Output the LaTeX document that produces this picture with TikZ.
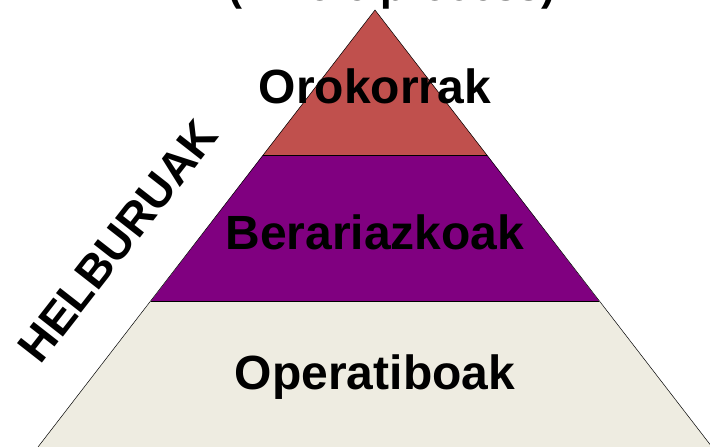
\documentclass[tikz,border=0pt]{standalone}
\usepackage{fontspec}
\setmainfont{Liberation Sans}
\definecolor{topred}{HTML}{C0504D}
\definecolor{midpurple}{HTML}{800080}
\definecolor{lowbeige}{HTML}{EEECE1}
\begin{document}
\begin{tikzpicture}[x=1pt,y=-1pt,
  layer/.style={draw=black,line width=0.5pt,line join=miter},
  lbl/.style={font=\fontsize{48}{56}\selectfont\bfseries,text=black,inner sep=0pt}]
\useasboundingbox (0,0) rectangle (710,447);
\clip (0,0) rectangle (710,447);
\coordinate (apex) at (375,10);
\coordinate (l1) at (263,155);
\coordinate (r1) at (487,155);
\coordinate (l2) at (151,301);
\coordinate (r2) at (599,301);
\coordinate (l3) at (38,447);
\coordinate (r3) at (712,447);
\fill[topred] (apex) -- (r1) -- (l1) -- cycle;
\fill[midpurple] (l1) -- (r1) -- (r2) -- (l2) -- cycle;
\fill[lowbeige] (l2) -- (r2) -- (r3) -- (l3) -- cycle;
\draw[layer] (l3) -- (apex) -- (r3);
\draw[layer] (l1) -- (r1);
\draw[layer] (l2) -- (r2);
\node[lbl] (oro) at (375,86) {Orokorrak};
\node[lbl] (ber) at (375,232) {Berariazkoak};
\node[lbl] (ope) at (375,377) {Operatiboak};
\node[lbl,font=\fontsize{46}{54}\selectfont\bfseries,rotate=52] (hel) at (118,241) {HELBURUAK};
\node[lbl,font=\fontsize{42}{50}\selectfont\bfseries,anchor=base] (top) at (392,0) {(Whole process)};
\end{tikzpicture}
\end{document}
